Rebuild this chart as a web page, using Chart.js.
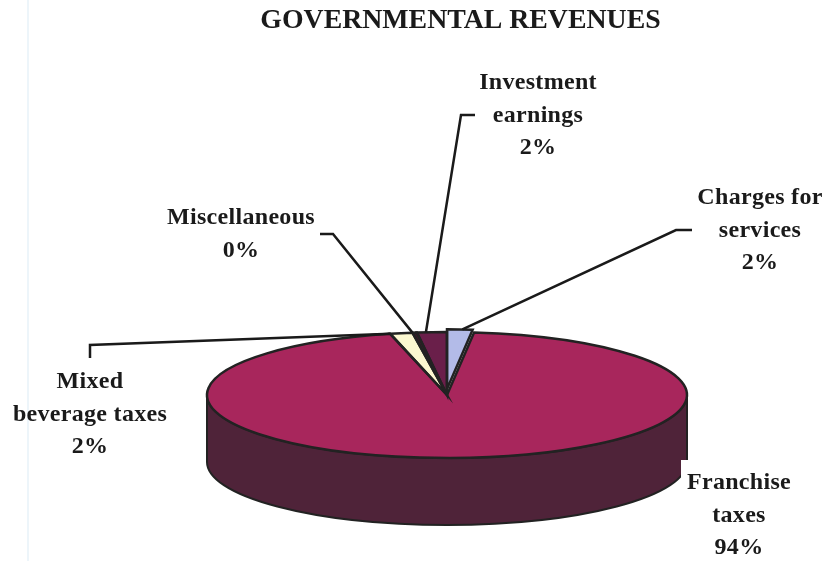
<!DOCTYPE html>
<html>
<head>
<meta charset="utf-8">
<title>Governmental Revenues</title>
<script src="https://cdn.jsdelivr.net/npm/chart.js@4"></script>
<style>
  html, body { margin: 0; padding: 0; }
  body { background: linear-gradient(#edf5fa, #edf5fa) 27px 0 / 2px 100% no-repeat #fff; }
  canvas { display: block; }
</style>
</head>
<body>
<canvas id="chart" width="827" height="561"></canvas>
<script>
// data, clockwise from 12 o'clock
const chartTitle = 'GOVERNMENTAL REVENUES';
const categories = ['Charges for services', 'Franchise taxes', 'Mixed beverage taxes', 'Miscellaneous', 'Investment earnings'];
const revenueShares = [1.8, 94.4, 1.5, 0.3, 2];
const percentLabels = ['2%', '94%', '2%', '0%', '2%'];
const labelLines = [['Charges for', 'services'], ['Franchise', 'taxes'], ['Mixed', 'beverage taxes'], ['Miscellaneous'], ['Investment', 'earnings']];
const sliceColors = ['#b3bbe8', '#a8265c', '#fbf8d0', '#3a1a2a', '#6a1f4a'];

// layout of the tilted pie
const pieX = 447, pieY = 395, pieRadius = 240, tilt = 63 / 240, wallDepth = 67;
const wallColor = '#4f2339', edgeColor = '#222', textColor = '#1a1a1a';
const labelFont = 'bold 24px "Liberation Serif"';
const titleFont = 'bold 27.8px "Liberation Serif"';
const lift = { index: 0, rise: 6, shrink: 0.947 }; // the pulled out slice

// label centre, first line y, leader elbow points (null for no leader), where on the slice rim it lands
// box: the white label box that bites into the pie wall
const labelLayout = [
  { x: 760, y: 198, leader: [[692, 230], [676, 230]], at: 0.6 },
  { x: 739, y: 483, leader: null, box: [681, 460, 120, 101] },
  { x: 90, y: 382, leader: [[90, 358], [90, 345]], at: 0 },
  { x: 241, y: 218, leader: [[320, 234], [333, 234]], at: 0 },
  { x: 538, y: 83, leader: [[475, 115], [461, 115]], at: 0.3 }
];
const lineGap = 32.5;

function tiltTransform(ctx, arc) {
  ctx.translate(pieX, pieY);
  ctx.scale(1, tilt);
  ctx.translate(-arc.x, -arc.y);
}

// centre and radius of a slice in the untilted pie
function sliceGeometry(arc, i) {
  if (i !== lift.index) return { x: arc.x, y: arc.y, r: arc.outerRadius };
  return { x: arc.x, y: arc.y - lift.rise / tilt, r: arc.outerRadius * lift.shrink };
}

const tiltedPie = {
  id: 'tiltedPie',
  beforeDatasetsDraw(chart) {
    const ctx = chart.ctx;
    const arcs = chart.getDatasetMeta(0).data;
    // side wall, only the front facing part of each slice
    arcs.forEach(arc => {
      const a0 = Math.max(arc.startAngle, 0);
      const a1 = Math.min(arc.endAngle, Math.PI);
      if (a1 <= a0) return;
      const ry = arc.outerRadius * tilt;
      ctx.save();
      ctx.beginPath();
      ctx.ellipse(pieX, pieY, arc.outerRadius, ry, 0, a0, a1);
      ctx.ellipse(pieX, pieY + wallDepth, arc.outerRadius, ry, 0, a1, a0, true);
      ctx.closePath();
      ctx.fillStyle = wallColor;
      ctx.fill();
      ctx.lineWidth = 2;
      ctx.strokeStyle = edgeColor;
      ctx.stroke();
      ctx.restore();
    });
    // Chart.js offset also grows the radius, so move this slice by hand
    const lifted = arcs[lift.index];
    if (!lifted.liftWrapped) {
      const draw = lifted.draw;
      lifted.draw = function (c, area) {
        const g = sliceGeometry(lifted, lift.index);
        c.save();
        c.translate(g.x, g.y);
        c.scale(lift.shrink, lift.shrink);
        c.translate(-lifted.x, -lifted.y);
        draw.call(lifted, c, area);
        c.restore();
      };
      lifted.liftWrapped = true;
    }
    ctx.save();
    tiltTransform(ctx, arcs[0]);
  },
  afterDatasetsDraw(chart) {
    const ctx = chart.ctx;
    ctx.restore();
    // outlines stroked after the transform is gone so the pen stays round
    chart.getDatasetMeta(0).data.forEach((arc, i) => {
      const g = sliceGeometry(arc, i);
      ctx.save();
      tiltTransform(ctx, arc);
      ctx.beginPath();
      ctx.moveTo(g.x, g.y);
      ctx.arc(g.x, g.y, g.r, arc.startAngle, arc.endAngle);
      ctx.closePath();
      ctx.restore();
      ctx.lineWidth = 2.5;
      ctx.strokeStyle = edgeColor;
      ctx.stroke();
    });
  },
  afterDraw(chart) {
    const ctx = chart.ctx;
    const arcs = chart.getDatasetMeta(0).data;
    ctx.save();
    ctx.textAlign = 'center';
    ctx.textBaseline = 'middle';

    ctx.font = titleFont;
    ctx.fillStyle = textColor;
    ctx.fillText(chartTitle, 460.5, 20.5);

    labelLayout.forEach((lay, i) => {
      const arc = arcs[i];
      if (lay.box) {
        ctx.fillStyle = '#fff';
        ctx.fillRect(...lay.box);
      }
      if (lay.leader) {
        const g = sliceGeometry(arc, i);
        const a = arc.startAngle + (arc.endAngle - arc.startAngle) * lay.at;
        const endX = pieX + (g.x - arc.x) + Math.cos(a) * g.r;
        const endY = pieY + (g.y - arc.y + Math.sin(a) * g.r) * tilt;
        ctx.beginPath();
        lay.leader.forEach((p, n) => n ? ctx.lineTo(p[0], p[1]) : ctx.moveTo(p[0], p[1]));
        ctx.lineTo(endX, endY);
        ctx.lineWidth = 2.5;
        ctx.strokeStyle = textColor;
        ctx.stroke();
      }
      ctx.font = labelFont;
      ctx.letterSpacing = '0.3px';
      ctx.fillStyle = textColor;
      labelLines[i].concat(percentLabels[i]).forEach((line, n) => {
        ctx.fillText(line, lay.x, lay.y + n * lineGap);
      });
      ctx.letterSpacing = '0px';
    });
    ctx.restore();
  }
};

new Chart(document.getElementById('chart'), {
  type: 'pie',
  data: {
    labels: categories,
    datasets: [{
      data: revenueShares,
      backgroundColor: sliceColors,
      borderWidth: 0,
      clip: false
    }]
  },
  options: {
    responsive: false,
    animation: false,
    radius: pieRadius,
    plugins: {
      legend: { display: false },
      tooltip: { enabled: false },
      title: { display: false }
    }
  },
  plugins: [tiltedPie]
});
</script>
</body>
</html>
